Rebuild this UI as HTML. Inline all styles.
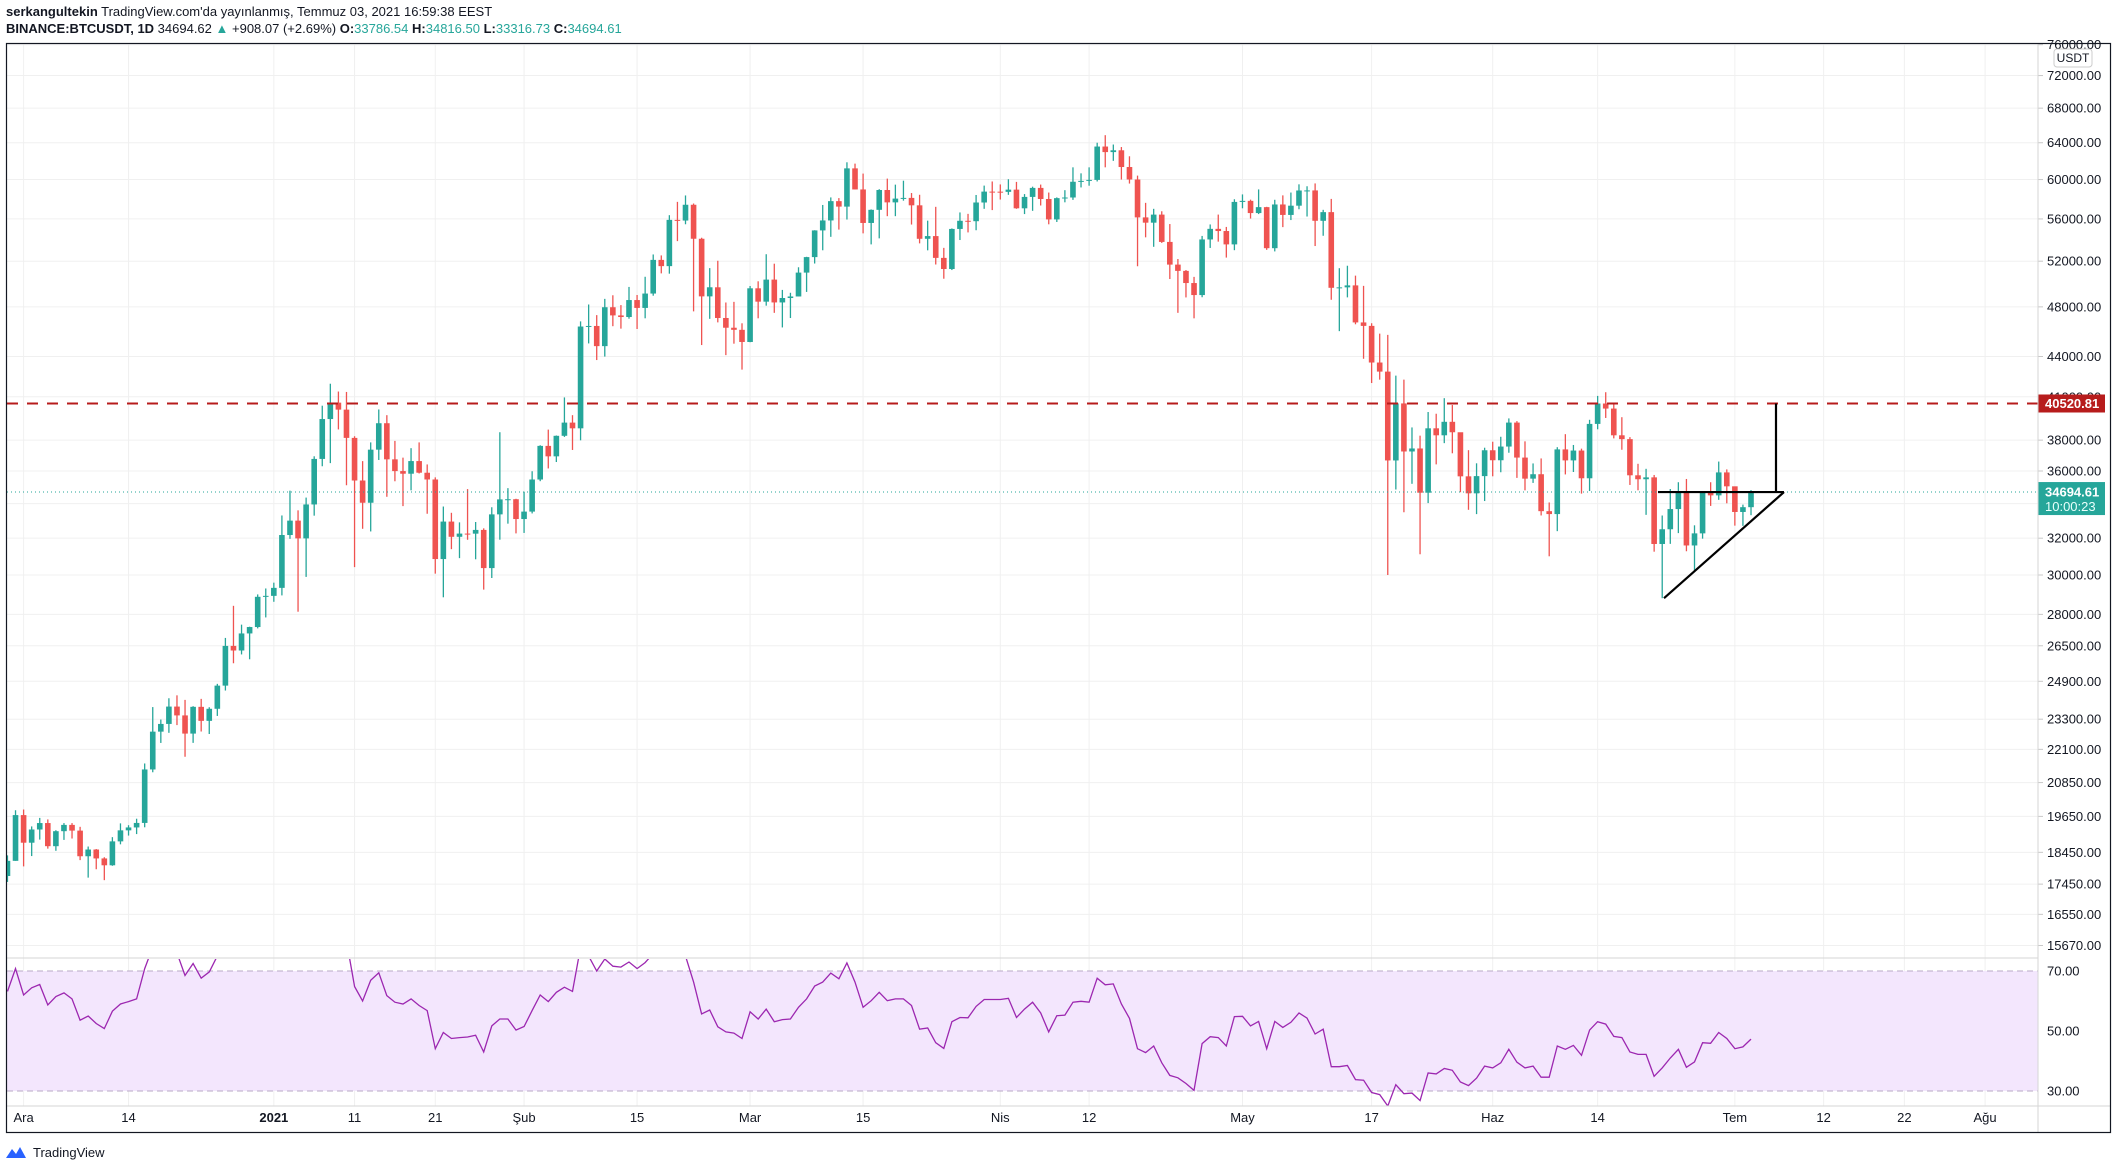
<!DOCTYPE html>
<html><head><meta charset="utf-8"><style>
body{margin:0;background:#fff;}
svg{display:block;font-family:"Liberation Sans",sans-serif;}
</style></head><body>
<svg id="c" width="2115" height="1169" viewBox="0 0 2115 1169" xmlns="http://www.w3.org/2000/svg">
<defs>
<clipPath id="mainClip"><rect x="7" y="44" width="2031" height="914"/></clipPath>
<clipPath id="rsiClip"><rect x="7" y="959" width="2031" height="147"/></clipPath>
</defs>
<g id="hdr">
<text x="6" y="16" font-size="13" fill="#131722"><tspan font-weight="bold">serkangultekin</tspan> TradingView.com'da yayınlanmış, Temmuz 03, 2021 16:59:38 EEST</text>
<text x="6" y="33" font-size="13" fill="#131722"><tspan font-weight="bold">BINANCE:BTCUSDT, 1D</tspan> 34694.62 <tspan fill="#26a69a">▲</tspan> +908.07 (+2.69%) <tspan font-weight="bold">O:</tspan><tspan fill="#26a69a">33786.54</tspan> <tspan font-weight="bold">H:</tspan><tspan fill="#26a69a">34816.50</tspan> <tspan font-weight="bold">L:</tspan><tspan fill="#26a69a">33316.73</tspan> <tspan font-weight="bold">C:</tspan><tspan fill="#26a69a">34694.61</tspan></text>
</g>
<g id="grid"></g>
<rect x="7" y="971" width="2031" height="120" fill="#f3e6fd"/>
<line x1="7" x2="2038" y1="971" y2="971" stroke="#b9a9c6" stroke-dasharray="6,4"/>
<line x1="7" x2="2038" y1="1091" y2="1091" stroke="#b9a9c6" stroke-dasharray="6,4"/>
<g id="candles" clip-path="url(#mainClip)"></g>
<g id="rsi" clip-path="url(#rsiClip)"></g>
<g id="draw"></g>
<g id="axes"></g>
<line x1="7" x2="2038" y1="958" y2="958" stroke="#d6d6d6"/>
<line x1="7" x2="2110" y1="1106" y2="1106" stroke="#d6d6d6"/>
<line x1="2038" x2="2038" y1="44" y2="1133" stroke="#d6d6d6"/>
<rect x="6.5" y="43.5" width="2104" height="1089" fill="none" stroke="#131722" stroke-width="1.2"/>
<rect x="2054" y="49" width="38" height="18" rx="3" fill="#fff" stroke="#ccc"/>
<text x="2073" y="62" font-size="12" text-anchor="middle" fill="#131722">USDT</text>
<g>
<path d="M6 1158 L12 1149 L16 1154 L20 1147 L26 1158 Z" fill="#2962ff"/>
<text x="33" y="1157" font-size="13" fill="#131722">TradingView</text>
</g>
</svg>
<script>
const closes=[18177,19695,
18764,19204,19422,18650,19147,19359,19166,18324,18541,18254,18036,18808,19175,19273,19426,21335,22797,23107,23821,23455,22719,23810,23232,23729,24712,26493,26281,27079,27385,28875,28923,
29331,32178,33000,31988,33949,36769,39432,40582,40088,38150,35404,34051,37371,39144,36742,35994,35828,36631,35891,35468,30850,32945,32078,32259,32254,32467,30366,33364,34252,34262,33092,
33526,35466,37619,36936,38290,39186,38795,46374,46420,44807,47969,47287,47153,48577,47911,49133,52119,51552,55906,55841,57408,54087,48891,49676,47073,46276,46106,45135,
49587,48440,50349,48374,48751,48882,50971,52375,54884,55851,57773,57221,61188,58968,55605,56900,58912,57648,58030,58102,57351,54083,54340,52303,51293,55025,55817,55777,57635,58746,58740,
58720,58950,57051,58202,59129,57991,55950,58077,58142,59769,59860,59964,63575,62959,63159,61334,60006,56150,55633,56425,53787,51690,51125,50047,49004,54021,55033,54824,53555,57694,
57800,56578,57169,53200,57436,56393,57314,58862,58869,55816,56670,49631,49670,49841,46708,46426,43538,42850,36671,40526,37252,37449,34655,38796,38324,39241,38529,35664,34617,35678,37332,
36684,37575,39187,36856,35520,35796,33552,33381,37388,36675,37313,35543,39097,40519,40162,38324,38068,35729,35483,35600,31676,32505,33676,34664,31594,32271,34700,34494,35911,35045,
33504,33787,34694];
const firstOpen=17700;
const highs=[18352,19863,
19888,19308,19598,19546,19180,19420,19420,19294,18639,18557,18292,18948,19411,19349,19570,21560,23800,23285,24171,24295,24102,23837,24145,23794,24789,26867,28422,27500,27400,28996,29300,
29600,33300,34778,33600,34360,36939,40365,41950,41380,41350,38264,36628,37850,40100,39700,37950,36852,37469,37850,36415,35600,33826,33456,32900,34875,32921,32557,33783,38531,34933,34288,
34717,35984,37662,38708,38310,40955,39700,46794,48200,47310,48678,48985,48150,49707,49010,50600,52618,52530,56368,57700,58352,57533,54183,51374,52041,48370,48424,46638,
49790,50200,52640,51773,49448,49200,51450,52402,54900,57387,58150,58081,61844,61700,60633,56939,58996,60100,59468,59880,58600,58421,55830,57200,53230,55073,56640,56500,58400,59368,59800,
59490,60036,59755,58493,59257,59475,58650,58153,58894,61300,60658,61300,64000,64854,63800,63520,62500,60416,57600,57000,56757,55500,52200,51200,50591,54356,55460,56428,55220,57964,
58458,57924,58973,57200,57911,58360,58650,59500,59300,59595,56900,58000,51367,51588,50700,49800,46643,45800,45700,42550,42250,38856,38300,39920,39800,40900,40412,38200,37338,36488,37499,
37894,38225,39476,39289,37921,36480,36801,34068,37534,38400,37680,37437,39380,41064,41330,40527,39559,38202,36457,36137,35750,33298,34881,35298,35500,32730,34749,35297,36600,36100,
35036,33939,34816];
const lows=[17517,18178,
18001,18330,18867,18570,18500,18857,18902,18200,17650,17911,17572,18020,18711,19000,19050,19278,21230,22350,22750,23060,21815,22353,22802,22703,23433,24500,25700,26101,25880,27320,27850,
28624,28946,31963,28130,29900,33288,36300,36500,38720,35111,30420,32531,32380,36701,34408,35357,33850,34800,35844,33400,30071,28850,31390,30900,31910,30837,29241,29842,31915,32825,32270,
32296,33418,35362,36161,36570,38215,37351,37988,45020,43727,43994,46400,46202,47014,46174,47047,48947,50901,50875,53863,55477,47622,44892,47003,46712,44106,45000,43000,
45115,47047,48100,47500,46300,47070,48882,49274,51789,53005,54269,54962,55938,58966,54600,53555,54124,56270,56270,57820,55450,53650,53000,51700,50427,51200,53966,54691,54900,57000,56873,
57935,58414,57000,56478,56800,57333,55473,55700,57654,57900,59177,59357,59800,61300,62000,60000,59580,51541,54221,53329,53695,50400,47500,48800,47044,48817,53222,53813,52330,53013,
57052,56035,56478,53046,52900,55200,55888,56957,56235,53400,54370,48600,46000,48805,46555,43825,42001,42250,30000,34850,33488,35200,31111,34031,36419,37800,37134,34684,33632,33379,34153,
35666,35920,37170,35567,34800,35255,33300,31000,32396,35783,35936,34600,34757,38730,39506,38116,37365,35129,34803,33336,31251,28805,31683,32286,31275,30151,31973,33862,34225,34017,
32711,32699,33316];
const rsiValues=[63.2,70.8,62,64.4,65.5,58.7,61.5,62.7,60.7,53.6,55,52.5,50.8,56.6,59,59.8,60.7,70.8,78,80,82,76,68.5,72.5,67.6,69.7,75,
80,83,85,86,84,86,88,87,85,86,84,82,85,86,83,80,
64.8,60,66.9,69.4,61.8,59.6,59,60.7,58.5,56.8,44.1,49.5,47.5,47.8,48,48.6,43,51.7,54,54,50.3,51.5,56.8,62,59.8,62.9,64.6,63.2,
78,75,70,74,71.6,71.3,73,70.8,72.8,75.8,74.4,78,77,75,
66.3,55.7,57,51.4,49.7,49.3,47.5,56.4,54,57.3,53.1,53.8,54,57.9,60.7,65,66.3,69.3,67.4,72.7,66.3,57.9,60.1,62.9,60.1,60.7,60.7,58.5,50.6,51,46.1,44.2,53.1,54.5,54.4,58.2,60.5,60.5,60.5,60.9,54.5,57.3,59.6,56,49.7,
55.1,55.3,59.6,59.9,59.6,67.6,65.4,65.7,59,54.2,44.1,42.8,45,39.4,35.2,34.4,32.5,30.2,45.8,48.1,47.8,45,54.8,54.9,51.7,53.2,44.1,53.2,51.2,52.9,56,54.3,49,50.6,38.1,38.1,38.5,33.8,33.6,29.5,28.8,25,32.1,29.1,29.3,26.8,36,35.7,37.5,36.9,33,31.8,34.3,38.3,37.7,39.4,43.9,39.6,37.7,38.3,34.6,34.6,45,43.9,45.2,41.9,50.3,53.1,52.3,48.2,47.8,43,42.2,42.2,34.9,37.7,41,43.9,37.9,39.7,46.1,45.9,49.5,47.5,44.1,44.7,47.3];
const priceTicks=[76000,72000,68000,64000,60000,56000,52000,48000,44000,41000,38000,36000,34000,32000,30000,28000,26500,24900,23300,22100,20850,19650,18450,17450,16550,15670];
const rsiTicks=[70,50,30];
const timeLabels=["Ara","14","2021","11","21","Şub","15","Mar","15","Nis","12","May","17","Haz","14","Tem","12","22","Ağu"];
const timeDays=[0,13,31,41,51,62,76,90,104,121,132,151,167,182,195,212,223,233,243];
const firstDay=-2;
const resistance=40520.81, lastPrice=34694.61;

const NS="http://www.w3.org/2000/svg";
function X(d){return 23.6+8.072*d;}
function Y(p){return 575-570.5*Math.log(p/30000);}
function R(v){return 1031-3*(v-50);}
function mk(tag,attrs,parent){const e=document.createElementNS(NS,tag);for(const k in attrs)e.setAttribute(k,attrs[k]);parent.appendChild(e);return e;}

const grid=document.getElementById('grid');
const axes=document.getElementById('axes');
priceTicks.forEach(p=>{
  const y=Y(p);
  const g=mk('line',{x1:7,x2:2038,y1:y,y2:y,stroke:'#f0f0f0'},grid);
  
  
  const t=mk('line',{x1:2038,x2:2043,y1:y,y2:y,stroke:'#c8c8c8'},axes);
  
  
  const l=mk('text',{x:2047,y:y+4.5,'font-size':13,fill:'#131722'},axes);
  l.textContent=p.toFixed(2);
  
  
});
rsiTicks.forEach(v=>{
  const y=R(v);
  const l=mk('text',{x:2047,y:y+4.5,'font-size':13,fill:'#131722'},axes);
  l.textContent=v.toFixed(2);
  
  
});
const g50=mk('line',{x1:7,x2:2038,y1:R(50),y2:R(50),stroke:'#e6d8ee'},grid);


timeLabels.forEach((s,i)=>{
  const x=X(timeDays[i]);
  const g=mk('line',{x1:x,x2:x,y1:44,y2:1106,stroke:'#f0f0f0'},grid);
  
  
  const l=mk('text',{x:x,y:1122,'font-size':13,fill:'#131722','text-anchor':'middle','font-weight':s==='2021'?'bold':'normal'},axes);
  l.textContent=s;
  
  
});

const cg=document.getElementById('candles');
closes.forEach((c,i)=>{
  const o=i===0?firstOpen:closes[i-1];
  const x=X(firstDay+i);
  const col=c>=o?'#26a69a':'#ef5350';
  const w=mk('line',{x1:x,x2:x,y1:Y(highs[i]),y2:Y(lows[i]),stroke:col,'stroke-width':1.3},cg);
  
  
  const yt=Y(Math.max(o,c)),yb=Y(Math.min(o,c));
  const b=mk('rect',{x:x-2.8,y:yt,width:5.6,height:Math.max(1,yb-yt),fill:col},cg);
  
  
});

const rg=document.getElementById('rsi');
const pts=rsiValues.map((v,i)=>X(firstDay+i).toFixed(1)+','+R(v).toFixed(1)).join(' ');
const rl=mk('polyline',{points:pts,fill:'none',stroke:'#9c27b0','stroke-width':1.3},rg);



const dg=document.getElementById('draw');
const yr=Y(resistance), yl=Y(lastPrice);
const rline=mk('line',{x1:7,x2:2038,y1:yr,y2:yr,stroke:'#b71c1c','stroke-width':2,'stroke-dasharray':'11,9'},dg);


const pl=mk('line',{x1:7,x2:2038,y1:yl,y2:yl,stroke:'#26a69a','stroke-width':1,'stroke-dasharray':'1,3'},dg);


const h1=mk('line',{x1:1658,x2:1784,y1:yl,y2:yl,stroke:'#000','stroke-width':2.2},dg);


const v1=mk('line',{x1:1776,x2:1776,y1:yr,y2:yl,stroke:'#000','stroke-width':2.2},dg);


const t1=mk('line',{x1:1664,x2:1784,y1:Y(28805),y2:yl,stroke:'#000','stroke-width':2.2},dg);



const rb=mk('rect',{x:2038,y:yr-9,width:67,height:18,fill:'#b71c1c'},axes);


const rt=mk('text',{x:2045,y:yr+4.5,'font-size':13,'font-weight':'bold',fill:'#fff'},axes);
rt.textContent='40520.81';


const gb=mk('rect',{x:2038,y:yl-10,width:67,height:33,fill:'#26a69a'},axes);


const gt=mk('text',{x:2045,y:yl+4.5,'font-size':13,'font-weight':'bold',fill:'#fff'},axes);
gt.textContent='34694.61';


const ct=mk('text',{x:2045,y:yl+19,'font-size':13,fill:'#e8fffb'},axes);
ct.textContent='10:00:23';


</script>
</body></html>
